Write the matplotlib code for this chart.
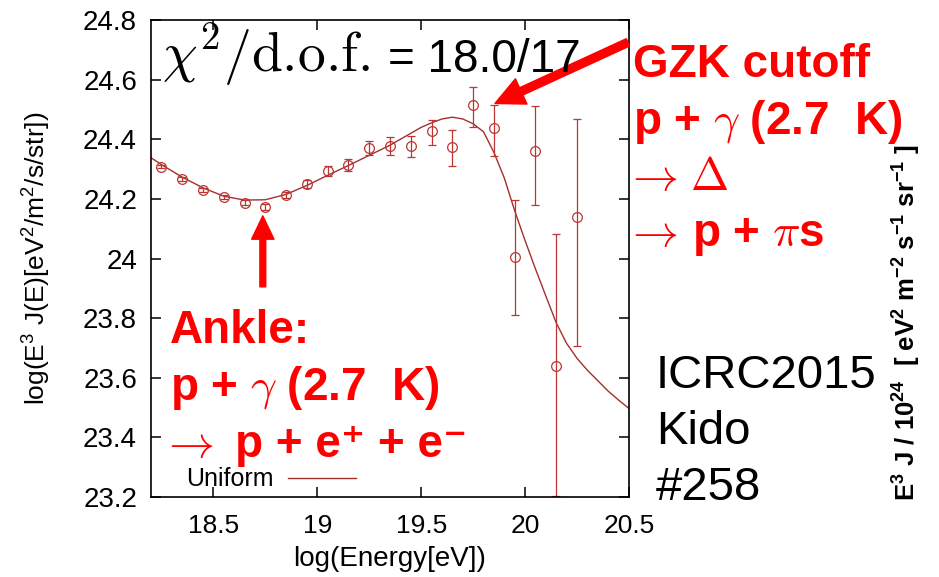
import numpy as np
import matplotlib
matplotlib.use("Agg")
from matplotlib import pyplot as plt

plt.rcParams['font.family'] = ['Liberation Sans', 'DejaVu Sans']
plt.rcParams['mathtext.fontset'] = 'custom'
plt.rcParams['mathtext.rm'] = 'Liberation Sans'
plt.rcParams['mathtext.it'] = 'Liberation Sans:italic'
plt.rcParams['mathtext.bf'] = 'Liberation Sans:bold'

# measured spectrum, log10(E/eV) bins
log_e = [18.25, 18.35, 18.45, 18.55, 18.65, 18.75, 18.85, 18.95, 19.05, 19.15, 19.25,
         19.35, 19.45, 19.55, 19.65, 19.75, 19.85, 19.95, 20.05, 20.15, 20.25]
log_flux = [24.307, 24.266, 24.231, 24.206, 24.187, 24.174, 24.213, 24.250, 24.293, 24.315, 24.371,
            24.379, 24.378, 24.428, 24.375, 24.514, 24.437, 24.005, 24.360, 23.640, 24.138]
err_lo = [0.005, 0.006, 0.007, 0.008, 0.009, 0.010, 0.011, 0.014, 0.017, 0.020, 0.023,
          0.032, 0.039, 0.046, 0.066, 0.072, 0.093, 0.196, 0.180, 0.435, 0.430]
err_hi = [0.005, 0.006, 0.007, 0.008, 0.009, 0.010, 0.011, 0.014, 0.017, 0.020, 0.023,
          0.028, 0.034, 0.038, 0.057, 0.061, 0.077, 0.191, 0.152, 0.442, 0.330]

# uniform source model
model_x = [18.20, 18.25, 18.35, 18.45, 18.55, 18.65, 18.75, 18.85, 18.95, 19.05, 19.15,
           19.25, 19.35, 19.45, 19.50, 19.55, 19.60, 19.65, 19.70, 19.75, 19.80, 19.85,
           19.90, 19.95, 20.00, 20.05, 20.10, 20.15, 20.20, 20.25, 20.30, 20.35, 20.40,
           20.45, 20.50]
model_y = [24.338, 24.315, 24.273, 24.237, 24.209, 24.196, 24.197, 24.215, 24.245, 24.279, 24.312,
           24.346, 24.380, 24.420, 24.440, 24.455, 24.468, 24.474, 24.468, 24.452, 24.425, 24.356,
           24.270, 24.160, 24.060, 23.965, 23.874, 23.784, 23.715, 23.665, 23.625, 23.590, 23.555,
           23.525, 23.497]

yticks = [23.2, 23.4, 23.6, 23.8, 24.0, 24.2, 24.4, 24.6, 24.8]
ytick_labels = ['23.2', '23.4', '23.6', '23.8', '24', '24.2', '24.4', '24.6', '24.8']
xticks = [18.5, 19.0, 19.5, 20.0, 20.5]
xtick_labels = ['18.5', '19', '19.5', '20', '20.5']

W, H = 939, 577
data_col = '#bb3533'
line_col = '#a3302e'
red = '#ff0000'


def px(x, y):
    return x / W, 1 - y / H


def red_text(x, y, s):
    fig.text(*px(x, y), s, fontsize=33, fontweight='bold', color=red, va='baseline',
             math_fontfamily='cm')


fig = plt.figure(figsize=(W / 100, H / 100), dpi=100)
ax = fig.add_axes([151 / W, 1 - 497 / H, (629 - 151) / W, (497 - 20) / H])

ax.plot(model_x, model_y, color=line_col, lw=1.0, label='Uniform')
ax.errorbar(log_e, log_flux, yerr=[err_lo, err_hi], fmt='o', mfc='none', mec=data_col,
            ms=7, mew=0.9, ecolor=data_col, elinewidth=0.9, capsize=3, capthick=0.9)

ax.set_xlim(18.2, 20.5)
ax.set_ylim(23.2, 24.8)
ax.set_xticks(xticks)
ax.set_xticklabels(xtick_labels)
ax.set_yticks(yticks)
ax.set_yticklabels(ytick_labels)
ax.tick_params(direction='in', top=True, right=True, length=7, width=1.1)
ax.tick_params(axis='y', labelsize=20, pad=10)
ax.tick_params(axis='x', labelsize=19, pad=12)
for s in ax.spines.values():
    s.set_linewidth(1.2)

ax.set_xlabel('log(Energy[eV])', fontsize=20, labelpad=6)
ax.set_ylabel(r'log(E$^3$ J(E)[eV$^2$/m$^2$/s/str])', fontsize=19, labelpad=22)

ax.legend(loc='lower left', bbox_to_anchor=(0.073, 0.012), markerfirst=False, frameon=False,
          fontsize=18, handlelength=2.7, borderaxespad=0, borderpad=0, handletextpad=0.6)

# fit quality
fig.text(*px(162, 72), r'$\chi^2$/d.o.f.', fontsize=40, family='cmr10', math_fontfamily='cm',
         va='baseline')
fig.text(*px(388, 72), '= 18.0/17', fontsize=33, va='baseline')

# GZK cutoff
red_text(633, 77, 'GZK cutoff')
red_text(633, 133.5, r'p + $\gamma$ (2.7  K)')
red_text(624, 190, r'$\rightarrow$')
red_text(690, 190, r'$\Delta$')
red_text(624, 246.5, r'$\rightarrow$')
red_text(692, 246.5, r'p + $\pi$s')

# ankle
red_text(170, 343, 'Ankle:')
red_text(170, 400, r'p + $\gamma$ (2.7  K)')
red_text(160, 457, r'$\rightarrow$')
fig.text(*px(235, 457), 'p + e\u207a + e\u207b', fontsize=33, fontweight='bold', color=red,
         va='baseline')

ax.annotate('', xy=(19.855, 24.52), xytext=(20.495, 24.725), annotation_clip=False,
            arrowprops=dict(arrowstyle='simple,head_length=1.3,head_width=1.25,tail_width=0.36',
                            color=red, mutation_scale=16, shrinkA=0, shrinkB=0))
ax.annotate('', xy=(18.738, 24.143), xytext=(18.738, 23.905), annotation_clip=False,
            arrowprops=dict(arrowstyle='simple,head_length=1.2,head_width=1.15,tail_width=0.3',
                            color=red, mutation_scale=14, shrinkA=0, shrinkB=0))

for i, line in enumerate(['ICRC2015', 'Kido', '#258']):
    fig.text(*px(656, 388 + 56 * i), line, fontsize=34, va='baseline')

fig.text(*px(907, 322), r'$\mathbf{E^3\ J\ /\ 10^{24}\ \ [\ eV^2\ m^{-2}\ s^{-1}\ sr^{-1}\ ]}$',
         fontsize=18.5, rotation=90, ha='center', va='center')

fig.savefig('out.png', dpi=100)
